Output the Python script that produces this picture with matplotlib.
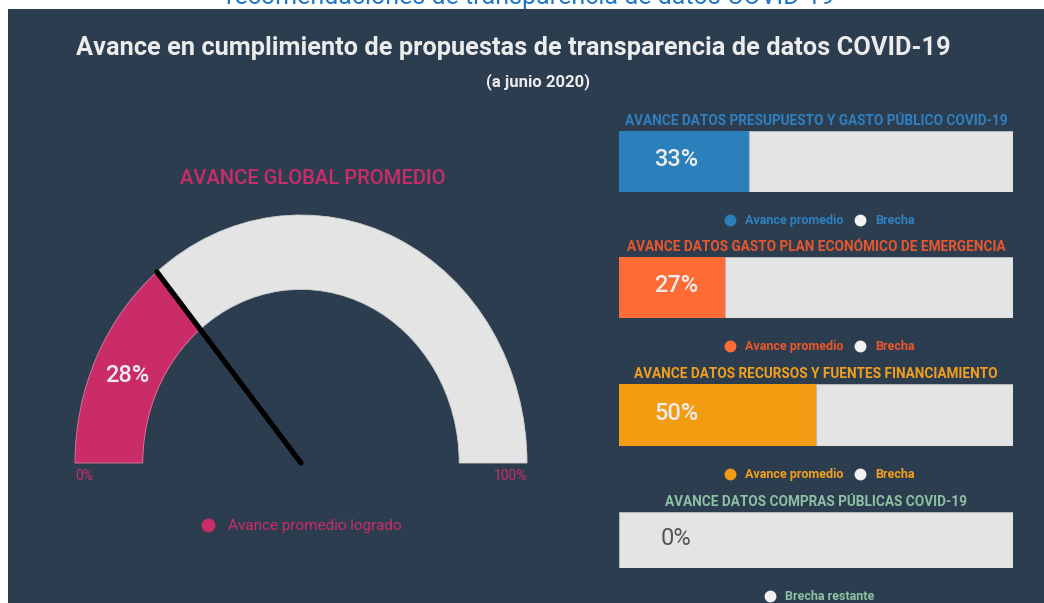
import matplotlib
matplotlib.use("Agg")
import matplotlib.pyplot as plt
from matplotlib.patches import Wedge, Rectangle
from matplotlib.lines import Line2D
import numpy as np

plt.rcParams["font.family"] = ["Roboto", "DejaVu Sans"]

# ── Data ────────────────────────────────────────────────────────────────
global_label = "AVANCE GLOBAL PROMEDIO"
global_value = 28

bar_titles = [
    "AVANCE DATOS PRESUPUESTO Y GASTO PÚBLICO COVID-19",
    "AVANCE DATOS GASTO PLAN ECONÓMICO DE EMERGENCIA",
    "AVANCE DATOS RECURSOS Y FUENTES FINANCIAMIENTO",
    "AVANCE DATOS COMPRAS PÚBLICAS COVID-19",
]
bar_values = [33, 27, 50, 0]
bar_legends = [
    ["Avance promedio", "Brecha"],
    ["Avance promedio", "Brecha"],
    ["Avance promedio", "Brecha"],
    ["Brecha restante"],
]

# ── Style ───────────────────────────────────────────────────────────────
W, H = 1044, 603
C_BG = "#2d3d50"
C_GREY = "#e4e4e4"
C_TEXT = "#ececec"
C_PINK = "#c92c66"
bar_fill = ["#2b7fbb", "#ff6b35", "#f39c12", C_GREY]
bar_title_col = ["#2f80c0", "#e8572b", "#f2a01c", "#8cc2a2"]


def px_rect(x0, y0, x1, y1):
    return [x0 / W, 1 - y1 / H, (x1 - x0) / W, (y1 - y0) / H]


fig = plt.figure(figsize=(W / 100, H / 100), dpi=100)
fig.patch.set_facecolor("white")

# background / text layer in pixel coordinates
bg = fig.add_axes([0, 0, 1, 1], zorder=0)
bg.set_xlim(0, W)
bg.set_ylim(H, 0)
bg.axis("off")
bg.add_patch(Rectangle((8, 9), W - 8, H - 9, facecolor=C_BG,
                       edgecolor="none", zorder=1))

# heading of the page above, cut off by the screenshot
bg.text(530, 4, "recomendaciones de transparencia de datos COVID-19",
        ha="center", va="baseline", fontsize=18, color="#1f78c8", zorder=0.5)
bg.text(513, 48, "Avance en cumplimiento de propuestas de transparencia de datos COVID-19",
        ha="center", va="center", fontsize=18.3, fontweight="bold", color=C_TEXT)
bg.text(538, 82, "(a junio 2020)", ha="center", va="center",
        fontsize=12, fontweight="bold", color=C_TEXT)

# ── Gauge ───────────────────────────────────────────────────────────────
bg.text(313, 179, global_label, ha="center", va="center",
        fontsize=14.5, fontweight="medium", color=C_PINK)

gx = fig.add_axes(px_rect(75, 215, 527, 463), zorder=1)
gx.set_xlim(-1, 1)
gx.set_ylim(0, 1)
gx.axis("off")
r_in = 0.70
theta = 180 - global_value / 100 * 180
gx.add_patch(Wedge((0, 0), 1, 0, theta, width=1 - r_in, facecolor=C_GREY,
                   edgecolor="#d0d0d0", lw=0.6, clip_on=False))
gx.add_patch(Wedge((0, 0), 1, theta, 180, width=1 - r_in, facecolor=C_PINK,
                   edgecolor="#e07aa0", lw=0.6, clip_on=False))
t = np.deg2rad(theta)
gx.plot([0, np.cos(t)], [0, np.sin(t)], color="black", lw=3.8,
        solid_capstyle="round", clip_on=False, zorder=5)
tm = np.deg2rad((180 + theta) / 2)
rm = (1 + r_in) / 2
gx.text(rm * np.cos(tm), rm * np.sin(tm) - 0.01, f"{global_value}%",
        ha="center", va="center", fontsize=17, fontweight="medium",
        color=C_TEXT)
bg.text(75, 476, "0%", ha="left", va="center", fontsize=10, color=C_PINK)
bg.text(527, 476, "100%", ha="right", va="center", fontsize=10, color=C_PINK)
bg.legend([Line2D([], [], marker="o", ls="none", markersize=9, color=C_PINK)],
          ["Avance promedio logrado"], loc="center",
          bbox_to_anchor=(297, 526), bbox_transform=bg.transData,
          frameon=False, fontsize=11, labelcolor=C_PINK, handletextpad=0.3)

# ── Bars ────────────────────────────────────────────────────────────────
bar_px = [(131, 192), (257, 318), (384, 446), (512, 568)]
for i, (title, val) in enumerate(zip(bar_titles, bar_values)):
    y0, y1 = bar_px[i]
    ax = fig.add_axes(px_rect(619, y0, 1013, y1), zorder=1)
    ax.barh(0, val, height=1, color=bar_fill[i], edgecolor="none")
    ax.barh(0, 100 - val, left=val, height=1, color=C_GREY,
            edgecolor="#b4b8bc", lw=0.8)
    ax.set_xlim(0, 100)
    ax.set_ylim(-0.5, 0.5)
    ax.axis("off")
    ax.set_title(title, fontsize=9.8, fontweight="bold",
                 color=bar_title_col[i], pad=4.5)
    lab_col = C_TEXT if val > 0 else "#555555"
    ax.text(14.5, 0.03, f"{val}%", ha="center", va="center", fontsize=17,
            fontweight="medium" if val > 0 else "normal", color=lab_col)

    labels = bar_legends[i]
    mk_cols = [bar_fill[i], "#f2f2f2"] if len(labels) == 2 else ["#f2f2f2"]
    handles = [Line2D([], [], marker="o", ls="none", markersize=7.5, color=c)
               for c in mk_cols]
    h_px = y1 - y0
    ax.legend(handles, labels, loc="center", ncol=len(labels),
              bbox_to_anchor=(0.5, -28.5 / h_px), frameon=False,
              prop={"size": 9, "weight": "bold"},
              labelcolor=bar_title_col[i], handletextpad=0.2,
              columnspacing=0.4)

fig.savefig("out.png", dpi=100, facecolor="white")
